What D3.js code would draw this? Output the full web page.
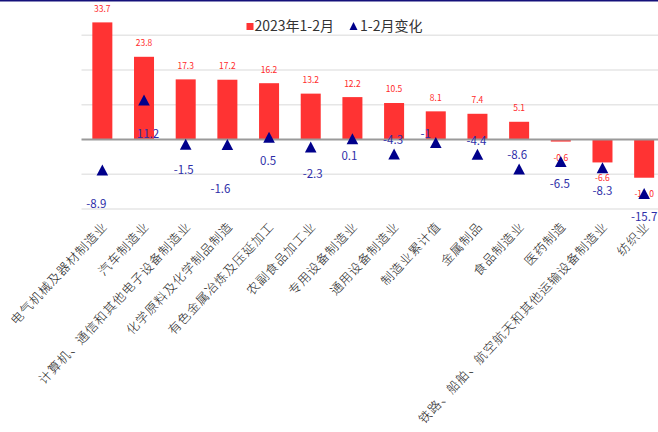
<!DOCTYPE html>
<html>
<head>
<meta charset="utf-8">
<script src="https://d3js.org/d3.v7.min.js"></script>
<style>
  body { margin: 0; background: #fff; }
  svg { display: block; font-family: "Noto Sans CJK SC", "Noto Sans", sans-serif; }
  .grid line { stroke: #e6e6e6; stroke-width: 1.5px; }
  .barlab { font-size: 8.5px; fill: #ff2a2a; text-anchor: middle; }
  .chglab { font-size: 11.5px; fill: #2e2ea8; text-anchor: middle; }
  .cat { font-size: 12.5px; font-weight: 300; letter-spacing: 1px; fill: #222; }
  .legend text { font-size: 14px; fill: #333; }
</style>
</head>
<body>
<svg id="chart" width="658" height="432"></svg>
<script>
// data
var categories = [
  "电气机械及器材制造业", "汽车制造业", "计算机、通信和其他电子设备制造业",
  "化学原料及化学制品制造", "有色金属冶炼及压延加工", "农副食品加工业",
  "专用设备制造业", "通用设备制造业", "制造业累计值", "金属制品",
  "食品制造业", "医药制造", "铁路、船舶、航空航天和其他运输设备制造业", "纺织业"
];
var values2023 = [33.7, 23.8, 17.3, 17.2, 16.2, 13.2, 12.2, 10.5, 8.1, 7.4, 5.1, -0.6, -6.6, -11.0];
var change = [-8.9, 11.2, -1.5, -1.6, 0.5, -2.3, 0.1, -4.3, -1, -4.4, -8.6, -6.5, -8.3, -15.7];
var yTicks = [-20, -10, 0, 10, 20, 30, 40];

// hand placed label nudges (like the original excel labels)
var chgLabelDy = [34, 33, 25, 44, 23, 26, 17, -14, -9, -14, -14, 22, 23, 23];
var chgLabelDx = [-6, 4, -2, -7, -1, 2, -3, -1, -10, -1, -2, -1, 0, 0];

var svg = d3.select("#chart");

var x = d3.scaleBand()
    .domain(categories)
    .range([81.5, 665])
    .paddingInner(0.52)
    .paddingOuter(0.26);

var y = d3.scaleLinear()
    .domain([-20, 40])
    .range([209, 0.5]);

// gridlines
svg.append("g").attr("class", "grid")
  .selectAll("line")
  .data(yTicks.filter(function(t) { return t !== 0 && t !== 40; }))
  .enter().append("line")
    .attr("x1", 81.5).attr("x2", 658)
    .attr("y1", function(d) { return y(d); })
    .attr("y2", function(d) { return y(d); });

// top frame line
svg.append("line")
  .attr("x1", 0).attr("x2", 658).attr("y1", 0.8).attr("y2", 0.8)
  .style("stroke", "#14107a").style("stroke-width", 1.6);

// bars
svg.append("g").selectAll("rect")
  .data(values2023)
  .enter().append("rect")
    .attr("x", function(d, i) { return x(categories[i]); })
    .attr("width", x.bandwidth())
    .attr("y", function(d) { return d >= 0 ? y(d) : y(0); })
    .attr("height", function(d) { return Math.abs(y(d) - y(0)); })
    .style("fill", "#ff3333");

// zero line
svg.append("line")
  .attr("x1", 81.5).attr("x2", 658)
  .attr("y1", y(0)).attr("y2", y(0))
  .style("stroke", "#9a9a9a").style("stroke-width", 2);

// bar labels
svg.append("g").selectAll("text")
  .data(values2023)
  .enter().append("text")
    .attr("class", "barlab")
    .attr("x", function(d, i) { return x(categories[i]) + x.bandwidth() / 2; })
    .attr("y", function(d) { return d >= 0 ? y(d) - 13.5 : y(d) + 16; })
    .attr("dy", "0.35em")
    .text(function(d) { return d.toFixed(1); });

// triangles
var tri = "M0,-6L5.8,5L-5.8,5Z";
svg.append("g").selectAll("path")
  .data(change)
  .enter().append("path")
    .attr("d", tri)
    .attr("transform", function(d, i) {
      return "translate(" + (x(categories[i]) + x.bandwidth() / 2) + "," + y(d) + ")";
    })
    .style("fill", "#00008b");

// change labels
svg.append("g").selectAll("text")
  .data(change)
  .enter().append("text")
    .attr("class", "chglab")
    .attr("x", function(d, i) { return x(categories[i]) + x.bandwidth() / 2 + chgLabelDx[i]; })
    .attr("y", function(d, i) { return y(d) + chgLabelDy[i]; })
    .attr("dy", "0.35em")
    .text(function(d) { return String(d); });

// category labels
svg.append("g").selectAll("text")
  .data(categories)
  .enter().append("text")
    .attr("class", "cat")
    .attr("text-anchor", "end")
    .attr("transform", function(d) {
      return "translate(" + (x(d) + x.bandwidth() / 2 + 6) + ",227) rotate(-47)";
    })
    .text(function(d) { return d; });

// legend
var lg = svg.append("g").attr("class", "legend");
lg.append("rect").attr("x", 246.5).attr("y", 23).attr("width", 7).attr("height", 7).style("fill", "#ff3333");
lg.append("text").attr("x", 254.5).attr("y", 26.5).attr("dy", "0.35em").text("2023年1-2月");
lg.append("path").attr("d", "M0,-4L4,4L-4,4Z").attr("transform", "translate(353.5,26)").style("fill", "#00008b");
lg.append("text").attr("x", 360).attr("y", 26.5).attr("dy", "0.35em").text("1-2月变化");
</script>
</body>
</html>
